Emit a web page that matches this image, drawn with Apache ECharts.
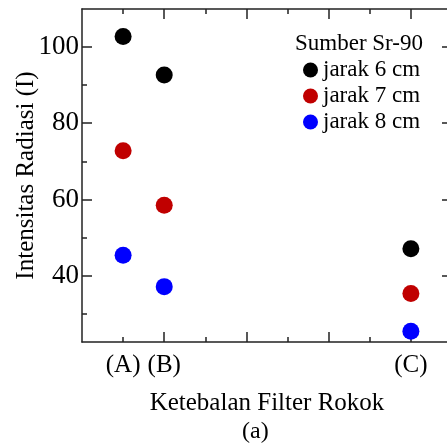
<!DOCTYPE html>
<html>
<head>
<meta charset="utf-8">
<script src="https://cdn.jsdelivr.net/npm/echarts@6/dist/echarts.min.js"></script>
<style>
  html, body { margin: 0; padding: 0; background: #fff; }
  #main { width: 447px; height: 445px; }
</style>
</head>
<body>
<div id="main"></div>
<script>
// filter positions on the x scale and their labels
const filterPos = [1, 2, 8]
const filterLabels = ['(A)', '(B)', '(C)']
// intensity per distance, same order as filterPos
const jarak6 = [102.7, 92.6, 47.1]
const jarak7 = [72.8, 58.5, 35.4]
const jarak8 = [45.4, 37.2, 25.5]
const seriesNames = ['jarak 6 cm', 'jarak 7 cm', 'jarak 8 cm']
const seriesColors = ['#000000', '#c00000', '#0000ff']
// ticks
const xMajor = [2, 4, 6, 8]
const xMinor = [1, 3, 5, 7]
const yMajor = [40, 60, 80, 100]
const yMinor = [30, 50, 70, 90]

const FONT = '"Liberation Serif", "Times New Roman", serif'
const AXIS_COLOR = '#222'

function pairs(values) {
  return filterPos.map((x, i) => [x, values[i]])
}

function xAxisDef(pos, ticks, len, extra) {
  return Object.assign({
    type: 'value', position: pos, min: 0, max: 9,
    axisLine: { show: true, onZero: false, lineStyle: { color: AXIS_COLOR, width: 1.5 } },
    axisTick: { show: true, inside: true, length: len, customValues: ticks, lineStyle: { color: AXIS_COLOR, width: 1.5 } },
    axisLabel: { show: false },
    splitLine: { show: false }
  }, extra || {})
}

function yAxisDef(pos, ticks, len, extra) {
  return Object.assign({
    type: 'value', position: pos, min: 22.7, max: 109.9,
    axisLine: { show: true, onZero: false, lineStyle: { color: AXIS_COLOR, width: 1.5 } },
    axisTick: { show: true, inside: true, length: len, customValues: ticks, lineStyle: { color: AXIS_COLOR, width: 1.5 } },
    axisLabel: { show: false },
    splitLine: { show: false }
  }, extra || {})
}

const chart = echarts.init(document.getElementById('main'), null, { renderer: 'canvas' })

chart.setOption({
  animation: false,
  backgroundColor: '#fff',
  grid: { left: 82, top: 9, right: -5, bottom: 103, containLabel: false, outerBoundsMode: 'none' },
  title: [
    { text: 'Sumber Sr-90', left: 295, top: 32, padding: 0,
      textStyle: { fontFamily: FONT, fontSize: 23, fontWeight: 'normal', color: '#000' } },
    { text: '(a)', left: 242, top: 420, padding: 0,
      textStyle: { fontFamily: FONT, fontSize: 24, fontWeight: 'normal', color: '#000' } }
  ],
  legend: {
    orient: 'vertical', left: 303, top: 57, padding: 0,
    itemGap: 0, itemWidth: 15, itemHeight: 15, icon: 'circle',
    data: seriesNames,
    textStyle: { fontFamily: FONT, fontSize: 23, color: '#000', lineHeight: 26 }
  },
  xAxis: [
    xAxisDef('bottom', xMajor, 10, {
      name: 'Ketebalan Filter Rokok', nameLocation: 'middle', nameGap: 49, nameMoveOverlap: false,
      nameTextStyle: { fontFamily: FONT, fontSize: 25, color: '#000' },
      axisLabel: {
        show: true, customValues: filterPos, margin: 11,
        fontFamily: FONT, fontSize: 25, color: '#000',
        formatter: v => filterLabels[filterPos.indexOf(v)] || ''
      }
    }),
    xAxisDef('bottom', xMinor, 5, { axisLine: { show: false, onZero: false } }),
    xAxisDef('top', xMajor, 10),
    xAxisDef('top', xMinor, 5, { axisLine: { show: false, onZero: false } })
  ],
  yAxis: [
    yAxisDef('left', yMajor, 10, {
      name: 'Intensitas Radiasi (I)', nameLocation: 'middle', nameGap: 43, nameMoveOverlap: false,
      nameTextStyle: { fontFamily: FONT, fontSize: 25, color: '#000' },
      axisLabel: {
        show: true, customValues: yMajor, margin: 3,
        fontFamily: FONT, fontSize: 27, color: '#000'
      }
    }),
    yAxisDef('left', yMinor, 5, { axisLine: { show: false, onZero: false } }),
    yAxisDef('right', yMajor, 10),
    yAxisDef('right', yMinor, 5, { axisLine: { show: false, onZero: false } })
  ],
  series: [jarak6, jarak7, jarak8].map((vals, i) => ({
    name: seriesNames[i],
    type: 'scatter',
    xAxisIndex: 0,
    yAxisIndex: 0,
    symbol: 'circle',
    symbolSize: 17,
    itemStyle: { color: seriesColors[i], opacity: 1 },
    data: pairs(vals)
  }))
})
</script>
</body>
</html>
